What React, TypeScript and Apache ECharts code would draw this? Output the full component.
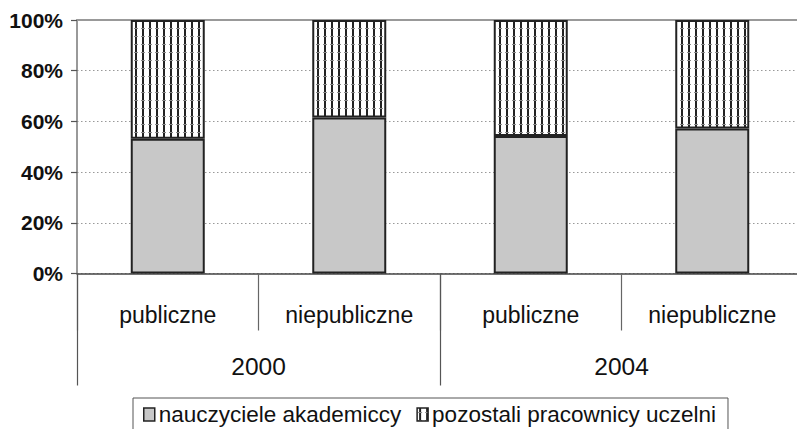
import React, { useEffect, useRef } from "react";
import * as echarts from "echarts";

const categories = ["publiczne", "niepubliczne", "publiczne", "niepubliczne"];
const years = ["2000", "2004"];
const yTicks = [0, 20, 40, 60, 80, 100];
const seriesNames = ["nauczyciele akademiccy", "pozostali pracownicy uczelni"];
const academic = [53.2, 61.5, 54.2, 57.2];
const others = [46.8, 38.5, 45.8, 42.8];

const FONT = "'Liberation Sans', Arial, sans-serif";
const TEXT = "#111111";

function makeStripe(): HTMLCanvasElement {
  const c = document.createElement("canvas");
  c.width = 7;
  c.height = 8;
  const ctx = c.getContext("2d")!;
  ctx.fillStyle = "#ffffff";
  ctx.fillRect(0, 0, 7, 8);
  ctx.fillStyle = "#222222";
  ctx.fillRect(2, 0, 2, 8);
  ctx.fillStyle = "#8a8a8a";
  ctx.fillRect(1, 4, 4, 1);
  return c;
}

export default function App() {
  const ref = useRef<HTMLDivElement>(null);
  useEffect(() => {
    if (!ref.current) return;
    const chart = echarts.init(ref.current, null, { renderer: "svg" });
    const stripe = makeStripe();
    chart.setOption({
      animation: false,
      textStyle: { fontFamily: FONT, color: TEXT },
      grid: {
        left: 77,
        width: 726,
        top: 20,
        bottom: 155.5,
        containLabel: false,
        outerBoundsMode: "none",
      },
      legend: {
        left: 133,
        top: 398,
        data: seriesNames,
        orient: "horizontal",
        itemWidth: 11,
        itemHeight: 13,
        itemGap: 15,
        padding: [5, 12, 5, 10],
        borderColor: "#555",
        borderWidth: 1,
        icon: "rect",
        textStyle: { fontFamily: FONT, fontSize: 22.5, color: TEXT, padding: [0, 0, 0, -1] },
        itemStyle: { borderWidth: 1.5, borderColor: "#222" },
      },
      xAxis: [
        {
          type: "category",
          data: categories,
          position: "bottom",
          axisLine: { show: true, lineStyle: { color: "#444", width: 1.5 } },
          axisTick: { show: true, length: 57, interval: 0, lineStyle: { color: "#666", width: 1.2 } },
          axisLabel: { interval: 0, margin: 30, fontSize: 23, color: TEXT, fontFamily: FONT },
        },
        {
          type: "category",
          data: years,
          position: "bottom",
          axisLine: { show: false },
          axisTick: { show: true, length: 112, interval: 0, lineStyle: { color: "#555", width: 1.2 } },
          axisLabel: { interval: 0, margin: 80, fontSize: 24.5, color: TEXT, fontFamily: FONT },
        },
        {
          type: "category",
          data: categories,
          position: "top",
          axisLine: { show: true, lineStyle: { color: "#999", width: 2 } },
          axisTick: { show: false },
          axisLabel: { show: false },
        },
      ],
      yAxis: {
        type: "value",
        min: 0,
        max: 100,
        interval: 20,
        axisLine: { show: true, lineStyle: { color: "#777", width: 1.5 } },
        axisTick: { show: true, length: 6, lineStyle: { color: "#555", width: 1.2 } },
        axisLabel: {
          margin: 14,
          fontSize: 21,
          fontWeight: "bold",
          color: TEXT,
          fontFamily: FONT,
          formatter: (v: number) => (yTicks.includes(v) ? v + "%" : ""),
        },
        splitLine: {
          show: true,
          lineStyle: { color: "#999", type: [1.5, 2.5], width: 1 },
        },
      },
      series: [
        {
          name: seriesNames[0],
          type: "bar",
          stack: "total",
          xAxisIndex: 0,
          barWidth: 74,
          data: academic,
          itemStyle: { color: "#c8c8c8", borderColor: "#222", borderWidth: 2 },
        },
        {
          name: seriesNames[1],
          type: "bar",
          stack: "total",
          xAxisIndex: 0,
          barWidth: 74,
          data: others,
          itemStyle: {
            color: { image: stripe, repeat: "repeat", imageWidth: 7, imageHeight: 8 },
            borderColor: "#222",
            borderWidth: 2,
          },
        },
      ],
    });
    return () => chart.dispose();
  }, []);
  return (
    <div
      ref={ref}
      style={{ position: "fixed", left: 0, top: 0, width: 797, height: 429, background: "#fff" }}
    />
  );
}
